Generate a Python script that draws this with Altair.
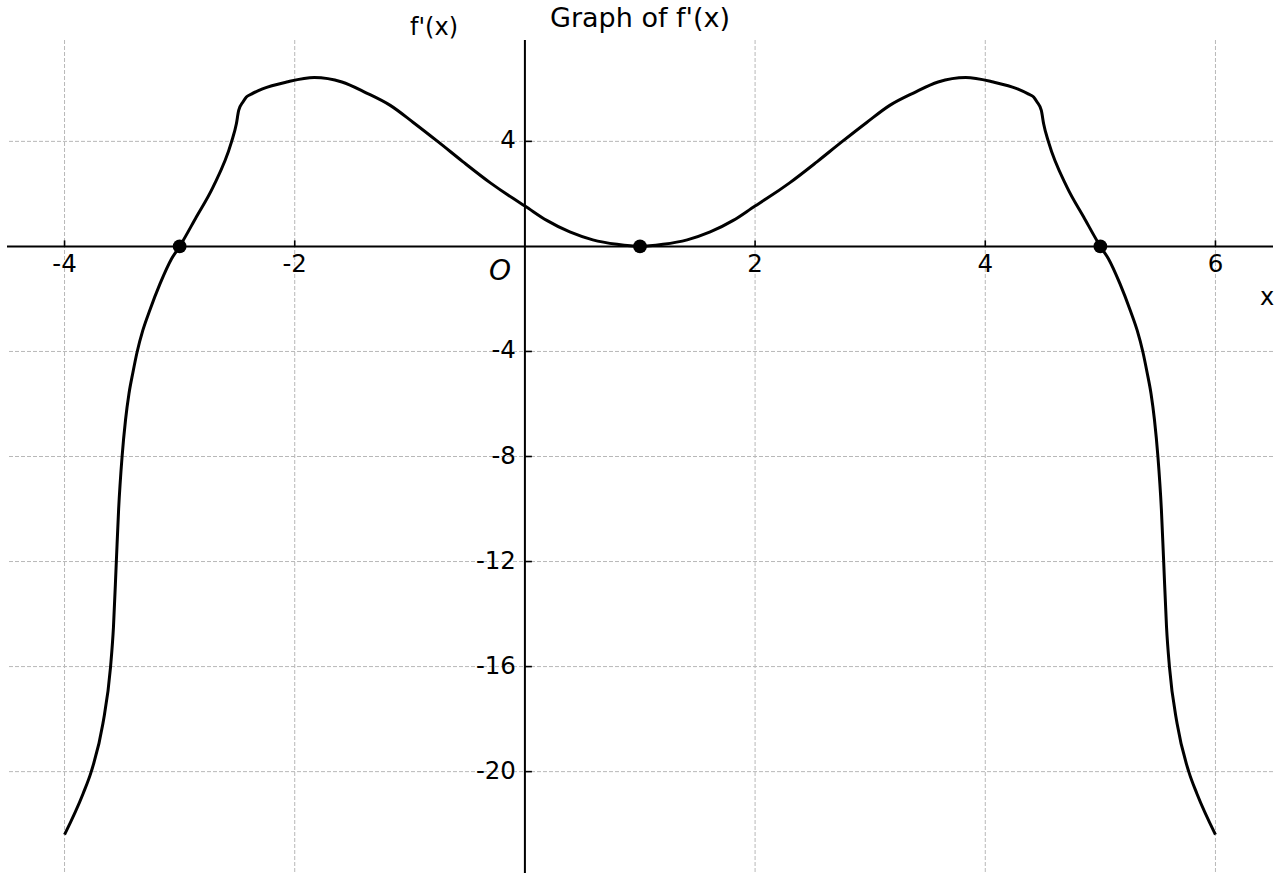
import altair as alt
import pandas as pd

# ---- data ----
x_vals = [-4.0, -3.84, -3.768, -3.667, -3.60, -3.575, -3.55, -3.53, -3.50, -3.47,
          -3.44, -3.406, -3.37, -3.32, -3.26, -3.17, -3.07, -3.0, -2.855, -2.71,
          -2.55, -2.507, -2.487, -2.45, -2.42, -2.377, -2.28, -2.07,
          -1.83, -1.59, -1.38, -1.17, -0.97, -0.75, -0.54, -0.30, -0.10, 0.0,
          0.19, 0.39, 0.59, 0.80, 1.0,
          1.20, 1.41, 1.61, 1.81, 2.0, 2.10, 2.30, 2.54, 2.75, 2.97,
          3.17, 3.38, 3.59, 3.83, 4.07, 4.28, 4.377, 4.42, 4.45, 4.487,
          4.507, 4.55, 4.71, 4.855, 5.0, 5.07, 5.17, 5.26,
          5.32, 5.37, 5.406, 5.44, 5.47, 5.50, 5.53, 5.55, 5.575, 5.60,
          5.667, 5.768, 5.84, 6.0]
y_vals = [-22.4, -20.85, -20.0, -18.18, -16.0, -14.5, -12.0, -10.0, -8.0, -6.6,
          -5.6, -4.8, -4.03, -3.2, -2.44, -1.42, -0.47, 0.0, 1.12, 2.26,
          3.97, 4.67, 5.18, 5.5, 5.69, 5.8, 6.0, 6.26,
          6.43, 6.26, 5.85, 5.37, 4.72, 3.97, 3.23, 2.42, 1.82, 1.54,
          0.99, 0.55, 0.25, 0.08, 0.0,
          0.08, 0.25, 0.55, 0.99, 1.54, 1.82, 2.42, 3.23, 3.97, 4.72,
          5.37, 5.85, 6.26, 6.43, 6.26, 6.0, 5.8, 5.69, 5.5, 5.18,
          4.67, 3.97, 2.26, 1.12, 0.0, -0.47, -1.42, -2.44,
          -3.2, -4.03, -4.8, -5.6, -6.6, -8.0, -10.0, -12.0, -14.5, -16.0,
          -18.18, -20.0, -20.85, -22.4]

zero_x = [-3, 1, 5]
zero_y = [0, 0, 0]

x_ticks = [-4, -2, 2, 4, 6]
x_tick_labels = ["-4", "-2", "2", "4", "6"]
y_ticks = [4, -4, -8, -12, -16, -20]
y_tick_labels = ["4", "-4", "-8", "-12", "-16", "-20"]

x_domain = [-4.5, 6.5]
y_domain = [-23.86, 7.86]

title_text = ["Graph of f'(x)"]
ylabel_text = ["f'(x)"]
xlabel_text = ["x"]
origin_text = ["O"]

# ---- chart ----
W, H = 1266, 833
FONT = "DejaVu Sans"
GRID = "#b8b8b8"

xs = alt.Scale(domain=x_domain, nice=False, zero=False)
ys = alt.Scale(domain=y_domain, nice=False, zero=False)

curve_df = pd.DataFrame({"x": x_vals, "y": y_vals})
pts_df = pd.DataFrame({"x": zero_x, "y": zero_y})
xt_df = pd.DataFrame({"v": x_ticks, "label": x_tick_labels, "zero": [0] * len(x_ticks)})
yt_df = pd.DataFrame({"v": y_ticks, "label": y_tick_labels, "zero": [0] * len(y_ticks)})
origin_df = pd.DataFrame({"zero": [0]})

grid_x = alt.Chart(xt_df).mark_rule(color=GRID, strokeWidth=1, strokeDash=[4, 2]).encode(
    x=alt.X("v:Q", scale=xs, axis=None))
grid_y = alt.Chart(yt_df).mark_rule(color=GRID, strokeWidth=1, strokeDash=[4, 2]).encode(
    y=alt.Y("v:Q", scale=ys, axis=None))

axis_x = alt.Chart(origin_df).mark_rule(color="black", strokeWidth=2).encode(
    y=alt.Y("zero:Q", scale=ys, axis=None))
axis_y = alt.Chart(origin_df).mark_rule(color="black", strokeWidth=2).encode(
    x=alt.X("zero:Q", scale=xs, axis=None))

ticks_x = alt.Chart(xt_df).mark_rule(color="black", strokeWidth=1.6, y2Offset=-6).encode(
    x=alt.X("v:Q", scale=xs, axis=None),
    y=alt.Y("zero:Q", scale=ys, axis=None),
    y2="zero:Q")
ticks_y = alt.Chart(yt_df).mark_rule(color="black", strokeWidth=1.6, x2Offset=7).encode(
    y=alt.Y("v:Q", scale=ys, axis=None),
    x=alt.X("zero:Q", scale=xs, axis=None),
    x2="zero:Q")

labels_x = alt.Chart(xt_df).mark_text(font=FONT, fontSize=24.5, color="black",
                                      align="center", baseline="alphabetic", dy=26).encode(
    x=alt.X("v:Q", scale=xs, axis=None),
    y=alt.Y("zero:Q", scale=ys, axis=None),
    text="label:N")
labels_y = alt.Chart(yt_df).mark_text(font=FONT, fontSize=24.5, color="black",
                                      align="right", baseline="middle", dx=-9).encode(
    y=alt.Y("v:Q", scale=ys, axis=None),
    x=alt.X("zero:Q", scale=xs, axis=None),
    text="label:N")

curve = alt.Chart(curve_df).mark_line(color="black", strokeWidth=3, interpolate="monotone").encode(
    x=alt.X("x:Q", scale=xs, axis=None),
    y=alt.Y("y:Q", scale=ys, axis=None))

points = alt.Chart(pts_df).mark_circle(size=190, color="black", opacity=1).encode(
    x=alt.X("x:Q", scale=xs, axis=None),
    y=alt.Y("y:Q", scale=ys, axis=None))

title = alt.Chart(pd.DataFrame({"t": title_text})).mark_text(
    font=FONT, fontSize=27, color="black", align="center", baseline="alphabetic").encode(
    x=alt.value(633), y=alt.value(-13), text="t:N")
ylab = alt.Chart(pd.DataFrame({"t": ylabel_text})).mark_text(
    font=FONT, fontSize=24, color="black", align="center", baseline="alphabetic").encode(
    x=alt.value(427), y=alt.value(-5), text="t:N")
xlab = alt.Chart(pd.DataFrame({"t": xlabel_text})).mark_text(
    font=FONT, fontSize=24, color="black", align="center", baseline="alphabetic").encode(
    x=alt.value(1260), y=alt.value(265), text="t:N")
olab = alt.Chart(pd.DataFrame({"t": origin_text})).mark_text(
    font=FONT, fontSize=28, fontStyle="italic", color="black", align="center",
    baseline="alphabetic").encode(
    x=alt.value(493), y=alt.value(240), text="t:N")

chart = alt.layer(
    grid_x, grid_y, axis_x, axis_y, ticks_x, ticks_y, curve, points,
    labels_x, labels_y, title, ylab, xlab, olab
).properties(
    width=W, height=H,
    padding={"left": 7, "top": 40, "right": 7, "bottom": 7},
    autosize="none",
).configure_view(stroke=None)

chart.save("out.html", embed_options={"renderer": "svg", "actions": False})
